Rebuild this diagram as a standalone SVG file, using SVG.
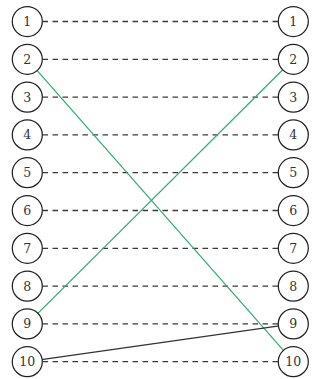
<svg xmlns="http://www.w3.org/2000/svg" width="327" height="379" viewBox="0 0 327 379">
<style>
.n circle{fill:#fff;stroke:#222;stroke-width:1.25}
.n text{font-family:"DejaVu Serif","Liberation Serif",serif;font-size:12.5px;fill:#333;text-anchor:middle;dominant-baseline:central}
.d{stroke:#3a3a3a;stroke-width:1.3;stroke-dasharray:5.5 4.5;fill:none}
.g{stroke:#33aa77;stroke-width:1.25;fill:none}
.k{stroke:#333;stroke-width:1.2;fill:none}
</style>
<rect width="327" height="379" fill="#fff"/>
<g id="connectors">
<line class="d" x1="42.5" y1="21.5" x2="278" y2="21.5"/>
<line class="d" x1="42.5" y1="59.3" x2="278" y2="59.3"/>
<line class="d" x1="42.5" y1="97.1" x2="278" y2="97.1"/>
<line class="d" x1="42.5" y1="134.9" x2="278" y2="134.9"/>
<line class="d" x1="42.5" y1="172.7" x2="278" y2="172.7"/>
<line class="d" x1="42.5" y1="210.5" x2="278" y2="210.5"/>
<line class="d" x1="42.5" y1="248.3" x2="278" y2="248.3"/>
<line class="d" x1="42.5" y1="286.1" x2="278" y2="286.1"/>
<line class="d" x1="42.5" y1="323.9" x2="278" y2="323.9"/>
<line class="d" x1="42.5" y1="361.7" x2="278" y2="361.7"/>
<line class="g" x1="27.3" y1="59.3" x2="293.3" y2="361.7"/>
<line class="g" x1="27.3" y1="323.9" x2="293.3" y2="59.3"/>
<line class="k" x1="27.3" y1="361.7" x2="293.3" y2="323.9"/>
</g>
<g id="L1" class="n"><circle cx="27.3" cy="21.5" r="15"/><text x="27.3" y="21.5">1</text></g>
<g id="L2" class="n"><circle cx="27.3" cy="59.3" r="15"/><text x="27.3" y="59.3">2</text></g>
<g id="L3" class="n"><circle cx="27.3" cy="97.1" r="15"/><text x="27.3" y="97.1">3</text></g>
<g id="L4" class="n"><circle cx="27.3" cy="134.9" r="15"/><text x="27.3" y="134.9">4</text></g>
<g id="L5" class="n"><circle cx="27.3" cy="172.7" r="15"/><text x="27.3" y="172.7">5</text></g>
<g id="L6" class="n"><circle cx="27.3" cy="210.5" r="15"/><text x="27.3" y="210.5">6</text></g>
<g id="L7" class="n"><circle cx="27.3" cy="248.3" r="15"/><text x="27.3" y="248.3">7</text></g>
<g id="L8" class="n"><circle cx="27.3" cy="286.1" r="15"/><text x="27.3" y="286.1">8</text></g>
<g id="L9" class="n"><circle cx="27.3" cy="323.9" r="15"/><text x="27.3" y="323.9">9</text></g>
<g id="L10" class="n"><circle cx="27.3" cy="361.7" r="15"/><text x="27.3" y="361.7">10</text></g>
<g id="R1" class="n"><circle cx="293.3" cy="21.5" r="15"/><text x="293.3" y="21.5">1</text></g>
<g id="R2" class="n"><circle cx="293.3" cy="59.3" r="15"/><text x="293.3" y="59.3">2</text></g>
<g id="R3" class="n"><circle cx="293.3" cy="97.1" r="15"/><text x="293.3" y="97.1">3</text></g>
<g id="R4" class="n"><circle cx="293.3" cy="134.9" r="15"/><text x="293.3" y="134.9">4</text></g>
<g id="R5" class="n"><circle cx="293.3" cy="172.7" r="15"/><text x="293.3" y="172.7">5</text></g>
<g id="R6" class="n"><circle cx="293.3" cy="210.5" r="15"/><text x="293.3" y="210.5">6</text></g>
<g id="R7" class="n"><circle cx="293.3" cy="248.3" r="15"/><text x="293.3" y="248.3">7</text></g>
<g id="R8" class="n"><circle cx="293.3" cy="286.1" r="15"/><text x="293.3" y="286.1">8</text></g>
<g id="R9" class="n"><circle cx="293.3" cy="323.9" r="15"/><text x="293.3" y="323.9">9</text></g>
<g id="R10" class="n"><circle cx="293.3" cy="361.7" r="15"/><text x="293.3" y="361.7">10</text></g>
</svg>
